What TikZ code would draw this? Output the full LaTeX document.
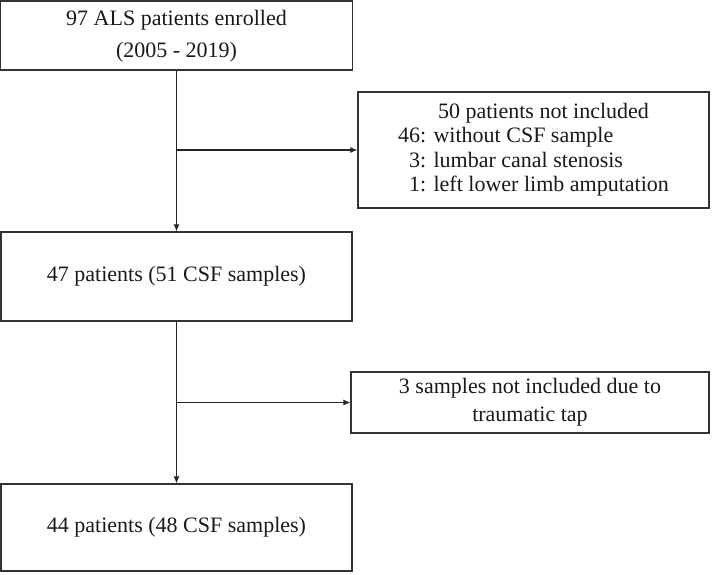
\documentclass[tikz,border=0pt]{standalone}
\usepackage{fontspec}
\setmainfont{Liberation Serif}
\usetikzlibrary{arrows.meta}

\tikzset{
  flowbox/.style={rectangle, draw=black!80, line width=1.2pt, inner sep=0pt, align=center, text=black!90, font=\fontsize{22}{28}\selectfont},
  flowarrow/.style={draw=black!85, line width=1.1pt, -{Latex[length=7pt,width=6pt]}}
}

\begin{document}
\begin{tikzpicture}[x=1pt, y=-1pt]
  \useasboundingbox (0,0) rectangle (712,574);
  % main column
  \node[flowbox, minimum width=352, minimum height=69, font=\fontsize{22}{32}\selectfont] (enrolled) at (176.5, 35.5) {\raisebox{-3pt}{\begin{tabular}{@{}c@{}}97 ALS patients enrolled\\(2005 - 2019)\end{tabular}}};
  \node[flowbox, minimum width=351, minimum height=89] (cohort) at (176.5, 276.5) {47 patients (51 CSF samples)};
  \node[flowbox, minimum width=351, minimum height=87] (final) at (176.5, 527.5) {44 patients (48 CSF samples)};
  % exclusions
  \node[flowbox, minimum width=351, minimum height=116, font=\fontsize{22}{24.5}\selectfont] (excluded) at (533.5, 150) {\begin{tabular}{@{}r@{: }l@{}}
    \multicolumn{2}{c}{\hspace*{20pt}50 patients not included}\\
    46 & without CSF sample\\
    3 & lumbar canal stenosis\\
    1 & left lower limb amputation
  \end{tabular}};
  \node[flowbox, minimum width=358, minimum height=61] (traumatic) at (530, 402.5) {3 samples not included due to\\traumatic tap};
  \coordinate (split1) at (176.5, 150);
  \coordinate (split2) at (176.5, 402.5);
  % connectors
  \draw[flowarrow] (enrolled.south) -- (cohort.north);
  \draw[flowarrow] (cohort.south) -- (final.north);
  \draw[flowarrow] (split1) -- (excluded.west);
  \draw[flowarrow] (split2) -- (traumatic.west);
\end{tikzpicture}
\end{document}
